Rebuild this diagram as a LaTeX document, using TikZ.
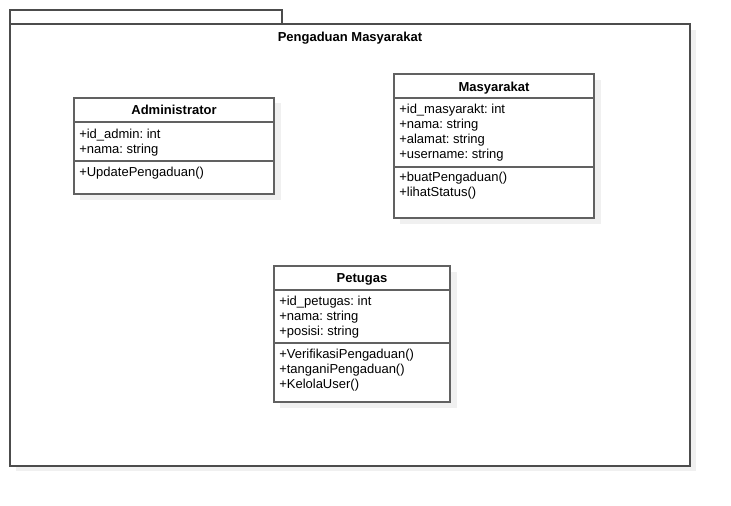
\documentclass[tikz,border=0pt]{standalone}
\usepackage{fontspec}
\setmainfont{Liberation Sans}
\frenchspacing
\usetikzlibrary{backgrounds}
\tikzstyle{diagram}=[x=0.75pt, y=-0.75pt, font=\fontsize{9.75}{11.25}\selectfont]
\tikzstyle{frame}=[draw=black!70, line width=1.1pt, fill=white]
\tikzstyle{cls}=[draw=black!62, line width=1.1pt, fill=white]
\tikzstyle{sep}=[draw=black!62, line width=1.1pt]
\tikzstyle{shade}=[fill=black!6, draw=none]
\tikzstyle{ttl}=[inner sep=0pt, anchor=base, font=\bfseries\fontsize{9.75}{11.25}\selectfont]
\tikzstyle{member}=[inner sep=0pt, anchor=base west]

\begin{document}
\begin{tikzpicture}[diagram]
	\useasboundingbox (0,0) rectangle (731,506);

	%The package frame
	\fill[shade] (16,30) rectangle (696,471);
	\draw[frame] (10,10) rectangle (282,24);
	\draw[frame] (10,24) rectangle (690,466);
	\node[ttl] (pkg) at (350,42) {Pengaduan Masyarakat};

	%The Administrator class
	\fill[shade] (80,103) rectangle (281,200);
	\draw[cls] (74,98) rectangle (274,194);
	\draw[sep] (74,122) -- (274,122);
	\draw[sep] (74,161) -- (274,161);
	\node[ttl] (admin) at (174,115) {Administrator};
	\foreach \t [count=\i from 0] in {+id\_admin: int, +nama: string}
		\node[member] (admin-a\i) at (79,138.5+15*\i) {\t};
	\node[member] (admin-m0) at (79,176) {+UpdatePengaduan()};

	%The Masyarakat class
	\fill[shade] (400,80) rectangle (601,224);
	\draw[cls] (394,74) rectangle (594,218);
	\draw[sep] (394,98) -- (594,98);
	\draw[sep] (394,167) -- (594,167);
	\node[ttl] (masy) at (494,91.5) {Masyarakat};
	\foreach \t [count=\i from 0] in {+id\_masyarakt: int, +nama: string, +alamat: string, +username: string}
		\node[member] (masy-a\i) at (399,113.5+15*\i) {\t};
	\foreach \t [count=\i from 0] in {+buatPengaduan(), +lihatStatus()}
		\node[member] (masy-m\i) at (399,181+15*\i) {\t};

	%The Petugas class
	\fill[shade] (280,272) rectangle (457,408);
	\draw[cls] (274,266) rectangle (450,402);
	\draw[sep] (274,290) -- (450,290);
	\draw[sep] (274,343) -- (450,343);
	\node[ttl] (pet) at (362,282.5) {Petugas};
	\foreach \t [count=\i from 0] in {+id\_petugas: int, +nama: string, +posisi: string}
		\node[member] (pet-a\i) at (279,305.5+15*\i) {\t};
	\foreach \t [count=\i from 0] in {+VerifikasiPengaduan(), +tanganiPengaduan(), +KelolaUser()}
		\node[member] (pet-m\i) at (279,358+15*\i) {\t};
\end{tikzpicture}
\end{document}
